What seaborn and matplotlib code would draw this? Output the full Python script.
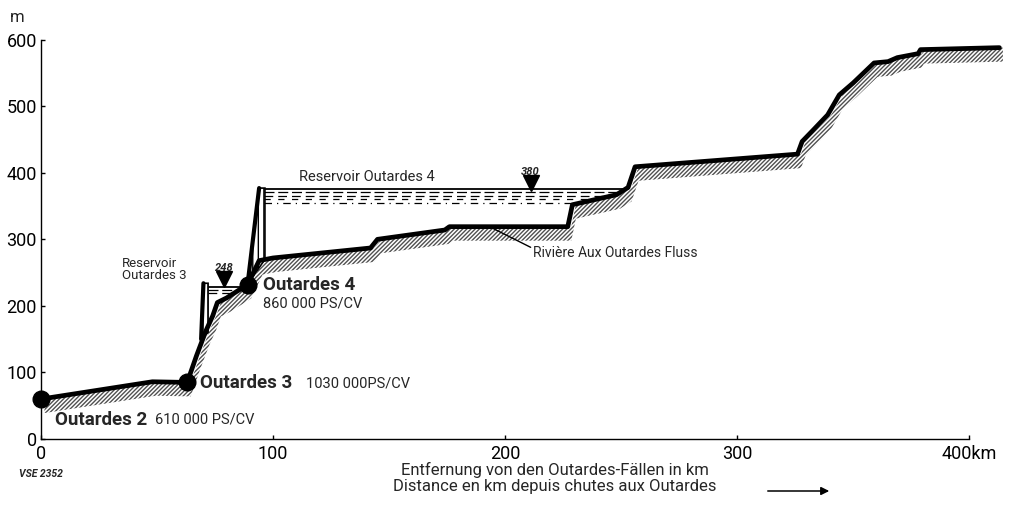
import matplotlib
matplotlib.use("Agg")
import matplotlib.pyplot as plt
import seaborn as sns
import numpy as np
import pandas as pd

# ---- data ----
profile_km = [0, 48, 63, 67, 71, 74, 76, 80, 89, 94, 100, 142, 145, 174, 176, 227, 229,
              248, 253, 256, 326, 328, 333, 339, 344, 350, 359, 365, 369, 378, 379, 413]
profile_m = [60, 86, 85, 125, 162, 185, 205, 212, 232, 268, 272, 287, 300, 314, 319, 319, 352,
             367, 378, 409, 428, 447, 465, 487, 517, 535, 565, 567, 573, 579, 585, 588]

plant_names = ["Outardes 2", "Outardes 3", "Outardes 4"]
plant_km = [0, 63, 89]
plant_m = [60, 85, 232]
plant_power = ["610 000 PS/CV", "1030 000PS/CV", "860 000 PS/CV"]

res4_level = 376
res4_dam_km = 96
res4_end_km = 253
res4_sub_levels = [371, 365, 360, 354]
res4_sub_ends = [250, 245, 238, 230]
res4_mark_km = 211
res4_mark_label = "380"

res3_level = 229
res3_dam_km = 72
res3_end_km = 88
res3_sub_levels = [224, 219]
res3_sub_ends = [86, 82]
res3_mark_km = 79
res3_mark_label = "248"

x_ticks = [0, 100, 200, 300, 400]
x_ticklabels = ["0", "100", "200", "300", "400km"]
y_ticks = [0, 100, 200, 300, 400, 500, 600]

# ---- style ----
sns.set_theme(style="white")
plt.rcParams['font.family'] = ['Roboto', 'DejaVu Sans']
plt.rcParams['hatch.linewidth'] = 1.0

fig = plt.figure(figsize=(10.13, 5.09), dpi=100)
ax = fig.add_axes([41/1013, 70/509, 970/1013, 406/509])
ax.set_xlim(0, 418)
ax.set_ylim(0, 610)

df = pd.DataFrame({"km": profile_km, "m": profile_m})
xs = np.array(profile_km, dtype=float)
ys = np.array(profile_m, dtype=float)

# hatched ground band below the river bed
ax.fill_between(xs + 1.5, ys - 21, ys, facecolor="none", edgecolor="#505050",
                hatch="////////", linewidth=0, zorder=1)

# dams
d4 = plt.Polygon([[plant_km[2], plant_m[2]], [res4_dam_km - 2, res4_level + 1],
                  [res4_dam_km + 0.5, res4_level + 1], [res4_dam_km + 0.5, 270]],
                 closed=True, facecolor="white", edgecolor="black", hatch="|||", linewidth=1.2, zorder=3)
ax.add_patch(d4)
ax.plot([plant_km[2], res4_dam_km - 2], [plant_m[2], res4_level + 1], color="black", lw=3, zorder=4)

d3 = plt.Polygon([[res3_dam_km - 3, 150], [res3_dam_km - 2, res3_level + 5],
                  [res3_dam_km, res3_level + 5], [res3_dam_km, 160]],
                 closed=True, facecolor="white", edgecolor="black", hatch="|||", linewidth=1.2, zorder=3)
ax.add_patch(d3)
ax.plot([res3_dam_km - 3, res3_dam_km - 2], [150, res3_level + 5], color="black", lw=3, zorder=4)

# river bed profile
sns.lineplot(data=df, x="km", y="m", sort=False, color="black", linewidth=3.4, ax=ax, zorder=5)

# reservoirs water
ax.plot([res4_dam_km, res4_end_km], [res4_level, res4_level], color="black", lw=1.3, zorder=2)
styles4 = [(0, (8, 3)), (0, (7, 4)), (0, (5, 6)), (0, (6, 4, 1, 4))]
for lvl, end, ls in zip(res4_sub_levels, res4_sub_ends, styles4):
    ax.plot([res4_dam_km, end], [lvl, lvl], color="black", lw=0.9, linestyle=ls, zorder=2)
ax.plot([res3_dam_km, res3_end_km], [res3_level, res3_level], color="black", lw=1.3, zorder=2)
for lvl, end, ls in zip(res3_sub_levels, res3_sub_ends, styles4):
    ax.plot([res3_dam_km, end], [lvl, lvl], color="black", lw=0.9, linestyle=ls, zorder=2)

# level markers
ax.plot([res4_mark_km], [res4_level + 9], marker="v", color="black", markersize=11, zorder=6)
ax.text(res4_mark_km, res4_level + 18, res4_mark_label, fontsize=8, style="italic",
        fontweight="bold", ha="center", va="bottom")
ax.plot([res3_mark_km], [res3_level + 12], marker="v", color="black", markersize=11, zorder=6)
ax.text(res3_mark_km, res3_level + 21, res3_mark_label, fontsize=8, style="italic",
        fontweight="bold", ha="center", va="bottom")

# power plants
ax.plot(plant_km, plant_m, "o", color="black", markersize=12, zorder=7, clip_on=False)
ax.text(6, 29, plant_names[0], fontsize=13.5, fontweight="bold", va="center")
ax.text(49, 29, plant_power[0], fontsize=10.5, va="center")
ax.text(68.5, 84, plant_names[1], fontsize=13.5, fontweight="bold", va="center")
ax.text(114, 83, plant_power[1], fontsize=10.5, va="center")
ax.text(95.5, 231, plant_names[2], fontsize=13.5, fontweight="bold", va="center")
ax.text(95.5, 203, plant_power[2], fontsize=10.5, va="center")

# labels
ax.text(35, 255, "Reservoir\nOutardes 3", fontsize=9.5, va="center", ha="left", linespacing=0.95)
ax.text(111, 394, "Reservoir Outardes 4", fontsize=10.5, va="center", ha="left")
ax.text(212, 280, "Rivière Aux Outardes Fluss", fontsize=10, va="center", ha="left")
ax.plot([195, 211], [316, 288], color="black", lw=1.0, zorder=4)

# axes
sns.despine(ax=ax, top=True, right=True)
ax.spines['left'].set_bounds(0, 600)
ax.spines['bottom'].set_bounds(0, 400)
for s in ("left", "bottom"):
    ax.spines[s].set_color("black")
    ax.spines[s].set_linewidth(1.0)
ax.set_xticks(x_ticks)
ax.set_xticklabels(x_ticklabels)
ax.set_yticks(y_ticks)
ax.tick_params(axis="both", which="both", direction="in", length=3, width=1, colors="black",
               labelsize=13, left=True, bottom=True, pad=4)
ax.tick_params(axis="y", pad=3)
ax.set_xlabel("")
ax.set_ylabel("")

fig.text(10/1013, 1 - 18/509, "m", fontsize=12, ha="left", va="center")
ax.text(0, -52, "VSE 2352", fontsize=7.5, style="italic", fontweight="bold", ha="center", va="center")

fig.text(555/1013, 1 - 478/509, "Entfernung von den Outardes-Fällen in km\nDistance en km depuis chutes aux Outardes",
         fontsize=12, ha="center", va="center", linespacing=1.05)
ax.annotate("", xy=(832/1013, 1 - 491/509), xytext=(765/1013, 1 - 491/509),
            xycoords="figure fraction", textcoords="figure fraction",
            arrowprops=dict(arrowstyle="-|>", color="black", lw=1.1, mutation_scale=12),
            annotation_clip=False)

fig.savefig("out.png", dpi=100)
